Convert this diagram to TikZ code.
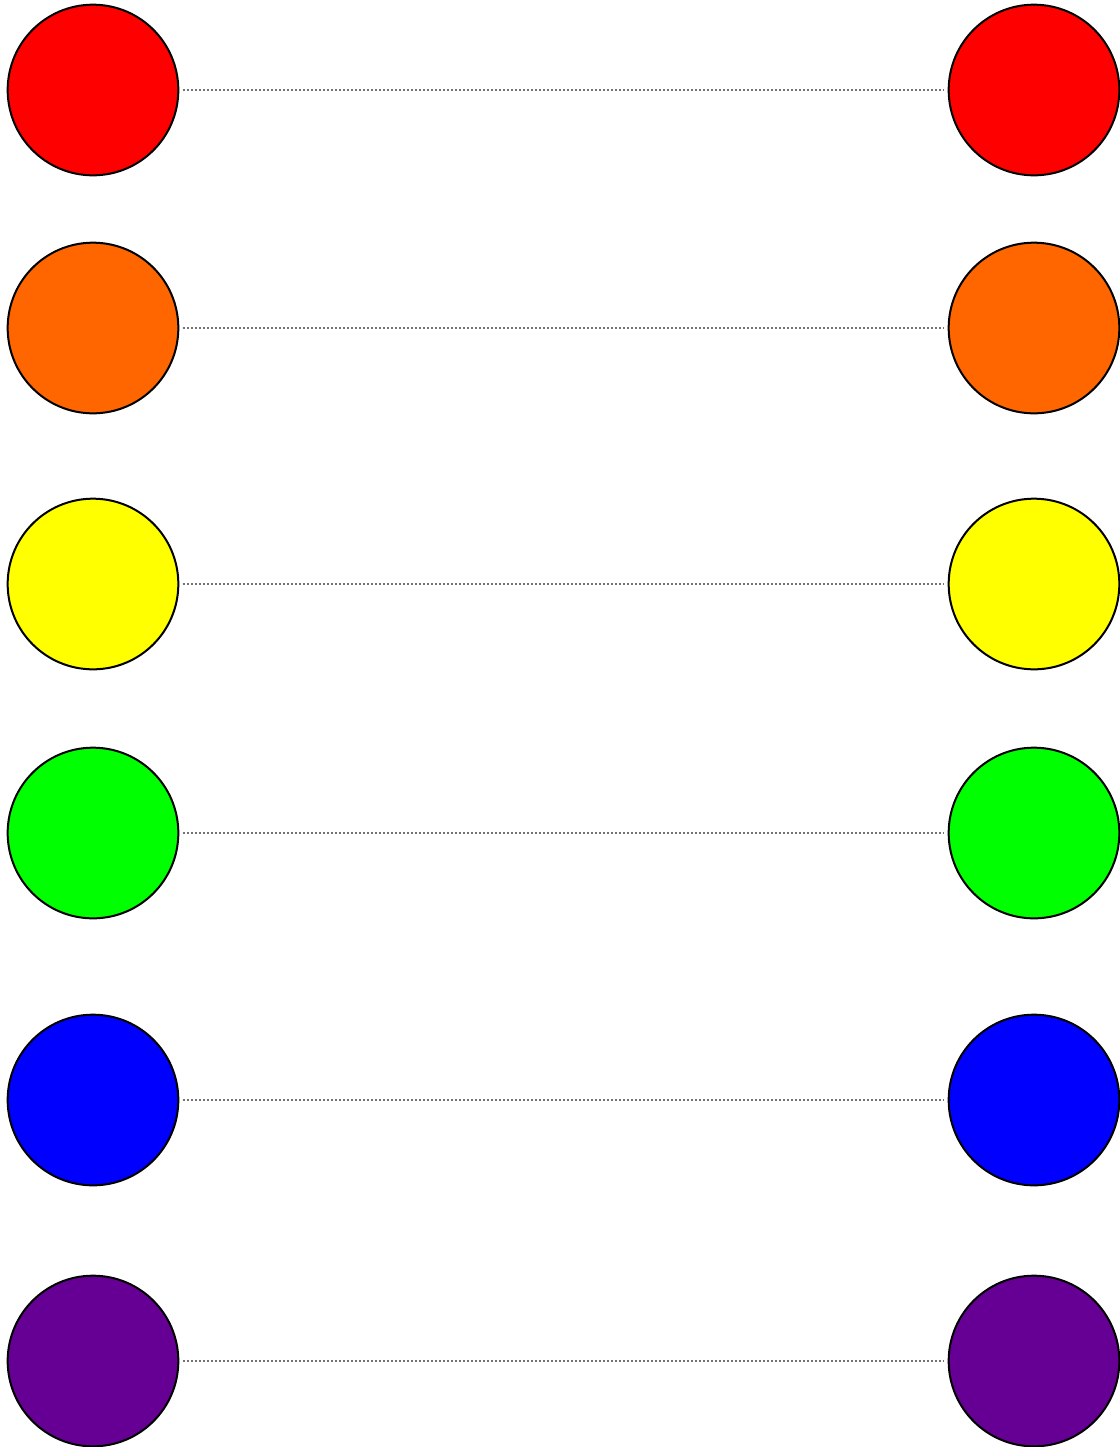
\documentclass[tikz,border=0pt]{standalone}
\usepackage{tikz}
\usetikzlibrary{positioning}

\tikzset{
  ball/.style={draw, circle, line width=1.5pt, minimum size=128pt, inner sep=0pt},
  link/.style={draw=gray!90!black, line width=1.5pt, dash pattern=on 1.5pt off 1.5pt, shorten <=2.5pt, shorten >=2.5pt}
}
\definecolor{cred}{RGB}{255,0,0}
\definecolor{corange}{RGB}{255,102,0}
\definecolor{cyellow}{RGB}{255,255,0}
\definecolor{cgreen}{RGB}{0,255,0}
\definecolor{cblue}{RGB}{0,0,255}
\definecolor{cpurple}{RGB}{102,0,148}

\begin{document}
\begin{tikzpicture}[x=0.75pt, y=-0.75pt]
  \useasboundingbox (0,0) rectangle (1120,1447);

  \node[ball, fill=cred] (redl) at (93,90) {};
  \node[ball, fill=cred] (redr) at (1034,90) {};
  \node[ball, fill=corange] (orangel) at (93,328) {};
  \node[ball, fill=corange] (oranger) at (1034,328) {};
  \node[ball, fill=cyellow] (yellowl) at (93,584) {};
  \node[ball, fill=cyellow] (yellowr) at (1034,584) {};
  \node[ball, fill=cgreen] (greenl) at (93,833) {};
  \node[ball, fill=cgreen] (greenr) at (1034,833) {};
  \node[ball, fill=cblue] (bluel) at (93,1100) {};
  \node[ball, fill=cblue] (bluer) at (1034,1100) {};
  \node[ball, fill=cpurple] (purplel) at (93,1361) {};
  \node[ball, fill=cpurple] (purpler) at (1034,1361) {};

  \draw[link] (redl) -- (redr);
  \draw[link] (orangel) -- (oranger);
  \draw[link] (yellowl) -- (yellowr);
  \draw[link] (greenl) -- (greenr);
  \draw[link] (bluel) -- (bluer);
  \draw[link] (purplel) -- (purpler);
\end{tikzpicture}
\end{document}
